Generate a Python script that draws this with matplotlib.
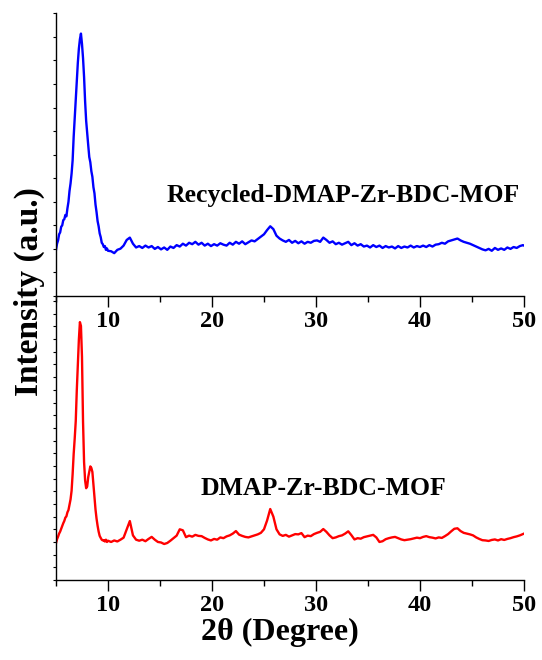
import matplotlib
matplotlib.use("Agg")
import matplotlib.pyplot as plt
from matplotlib.ticker import MultipleLocator, FixedLocator

plt.rcParams['font.family'] = ['Liberation Serif', 'DejaVu Serif']
plt.rcParams['font.weight'] = 'bold'

# 2theta grid (deg): fine steps over the low-angle peaks, coarser after 10 deg
two_theta = [
    5.0, 5.1, 5.2, 5.3, 5.4, 5.5, 5.6, 5.7, 5.8, 5.9,
    6.0, 6.1, 6.2, 6.3, 6.4, 6.5, 6.6, 6.7, 6.8, 6.9,
    7.0, 7.1, 7.2, 7.3, 7.4, 7.5, 7.6, 7.7, 7.8, 7.9,
    8.0, 8.1, 8.2, 8.3, 8.4, 8.5, 8.6, 8.7, 8.8, 8.9,
    9.0, 9.1, 9.2, 9.3, 9.4, 9.5, 9.6, 9.7, 9.8, 9.9,
    10.0,
    10.3, 10.6, 10.9, 11.2, 11.5, 11.8, 12.1, 12.4, 12.7, 13.0,
    13.3, 13.6, 13.9, 14.2, 14.5, 14.8, 15.1, 15.4, 15.7, 16.0,
    16.3, 16.6, 16.9, 17.2, 17.5, 17.8, 18.1, 18.4, 18.7, 19.0,
    19.3, 19.6, 19.9, 20.2, 20.5, 20.8, 21.1, 21.4, 21.7, 22.0,
    22.3, 22.6, 22.9, 23.2, 23.5, 23.8, 24.1, 24.4, 24.7, 25.0,
    25.3, 25.6, 25.9, 26.2, 26.5, 26.8, 27.1, 27.4, 27.7, 28.0,
    28.3, 28.6, 28.9, 29.2, 29.5, 29.8, 30.1, 30.4, 30.7, 31.0,
    31.3, 31.6, 31.9, 32.2, 32.5, 32.8, 33.1, 33.4, 33.7, 34.0,
    34.3, 34.6, 34.9, 35.2, 35.5, 35.8, 36.1, 36.4, 36.7, 37.0,
    37.3, 37.6, 37.9, 38.2, 38.5, 38.8, 39.1, 39.4, 39.7, 40.0,
    40.3, 40.6, 40.9, 41.2, 41.5, 41.8, 42.1, 42.4, 42.7, 43.0,
    43.3, 43.6, 43.9, 44.2, 44.5, 44.8, 45.1, 45.4, 45.7, 46.0,
    46.3, 46.6, 46.9, 47.2, 47.5, 47.8, 48.1, 48.4, 48.7, 49.0,
    49.3, 49.6, 49.9, 50.0,
]

# recycled sample (top panel)
recycled = [
    196, 222, 236, 262, 270, 294, 300, 322, 326, 344,
    338, 372, 400, 446, 478, 520, 576, 676, 754, 840,
    912, 990, 1050, 1090, 1114, 1070, 1010, 930, 826, 744,
    690, 640, 590, 568, 530, 506, 462, 436, 388, 356,
    318, 296, 266, 250, 226, 220, 208, 212, 196, 202,
    192,
    190, 182, 196, 201, 214, 238, 248, 222, 206, 212,
    204, 214, 206, 212, 200, 208, 198, 206, 196, 210,
    204, 216, 210, 222, 214, 226, 220, 230, 218, 226,
    214, 222, 212, 220, 214, 224, 218, 214, 226, 218,
    230, 222, 232, 220, 228, 236, 232, 242, 252, 262,
    280, 296, 284, 256, 244, 236, 230, 238, 226, 234,
    224, 232, 222, 230, 226, 234, 236, 230, 248, 238,
    226, 232, 220, 226, 218, 224, 230, 216, 224, 214,
    220, 210, 214, 206, 216, 208, 214, 204, 212, 206,
    210, 202, 212, 204, 210, 206, 214, 206, 212, 208,
    214, 208, 216, 210, 218, 220, 226, 222, 232, 236,
    240, 244, 236, 230, 226, 222, 216, 210, 204, 198,
    194, 200, 192, 204, 196, 202, 196, 206, 200, 208,
    204, 212, 216, 214,
]

# fresh sample (bottom panel)
fresh = [
    290, 322, 342, 366, 382, 404, 424, 448, 466, 492,
    502, 534, 552, 594, 636, 704, 836, 994, 1116, 1254,
    1496, 1704, 1896, 2034, 2004, 1760, 1250, 930, 786, 724,
    738, 812, 856, 896, 884, 852, 756, 654, 556, 484,
    428, 382, 348, 332, 318, 312, 314, 304, 318, 300,
    310,
    300, 312, 304, 318, 334, 400, 465, 352, 318, 310,
    318, 306, 324, 340, 318, 300, 296, 284, 292, 310,
    330, 350, 400, 392, 338, 350, 342, 356, 348, 346,
    332, 320, 312, 324, 318, 336, 330, 344, 352, 366,
    386, 358, 348, 340, 336, 344, 352, 360, 372, 400,
    470, 560, 500, 400, 360, 348, 356, 342, 352, 362,
    360, 370, 338, 350, 346, 362, 372, 380, 402, 380,
    352, 330, 336, 346, 352, 366, 384, 354, 320, 330,
    326, 338, 344, 350, 356, 336, 300, 306, 322, 330,
    336, 340, 330, 320, 314, 318, 322, 328, 334, 330,
    340, 346, 338, 334, 328, 336, 332, 346, 362, 384,
    404, 408, 386, 372, 366, 360, 352, 336, 324, 314,
    312, 308, 316, 320, 312, 322, 316, 324, 330, 338,
    344, 352, 362, 366,
]

x_ticks = [10, 20, 30, 40, 50]
labels = ['Recycled-DMAP-Zr-BDC-MOF', 'DMAP-Zr-BDC-MOF']

fig = plt.figure(figsize=(5.42, 6.6), dpi=100)
ax_bot = fig.add_axes([0.1033, 0.1212, 0.8635, 0.4303])
ax_top = fig.add_axes([0.1033, 0.5515, 0.8635, 0.4283])

panels = [(ax_top, recycled, '#0000ff', 1200, labels[0], 15.6, 400),
          (ax_bot, fresh, '#ff0000', 2240, labels[1], 18.9, 672)]

for ax, y, col, ymax, name, tx, ty in panels:
    ax.set_facecolor('none')
    ax.plot(two_theta, y, color=col, lw=1.7)
    ax.set_xlim(5, 50)
    ax.set_ylim(0, ymax)
    for s in ['top', 'right']:
        ax.spines[s].set_visible(False)
    for s in ['left', 'bottom']:
        ax.spines[s].set_linewidth(1.0)
    ax.xaxis.set_major_locator(FixedLocator(x_ticks))
    ax.xaxis.set_minor_locator(MultipleLocator(5))
    ax.yaxis.set_major_locator(MultipleLocator(100))
    ax.tick_params(axis='x', which='major', direction='out', length=8, width=1,
                   labelsize=17.5, pad=3)
    ax.tick_params(axis='x', which='minor', direction='out', length=4, width=1)
    ax.tick_params(axis='y', which='major', direction='out', length=2.5, width=0.8,
                   labelleft=False)
    ax.text(tx, ty, name, fontsize=18.5, fontweight='bold', ha='left', va='baseline')

ax_bot.set_xlabel('2θ (Degree)', fontsize=23, fontweight='bold', labelpad=2)
ax_bot.xaxis.set_label_coords(0.479, -0.135)
fig.text(29 / 542, 1 - 292 / 660, 'Intensity (a.u.)', rotation=90, fontsize=24,
         fontweight='bold', ha='center', va='center')

fig.savefig('out.png', dpi=100)
